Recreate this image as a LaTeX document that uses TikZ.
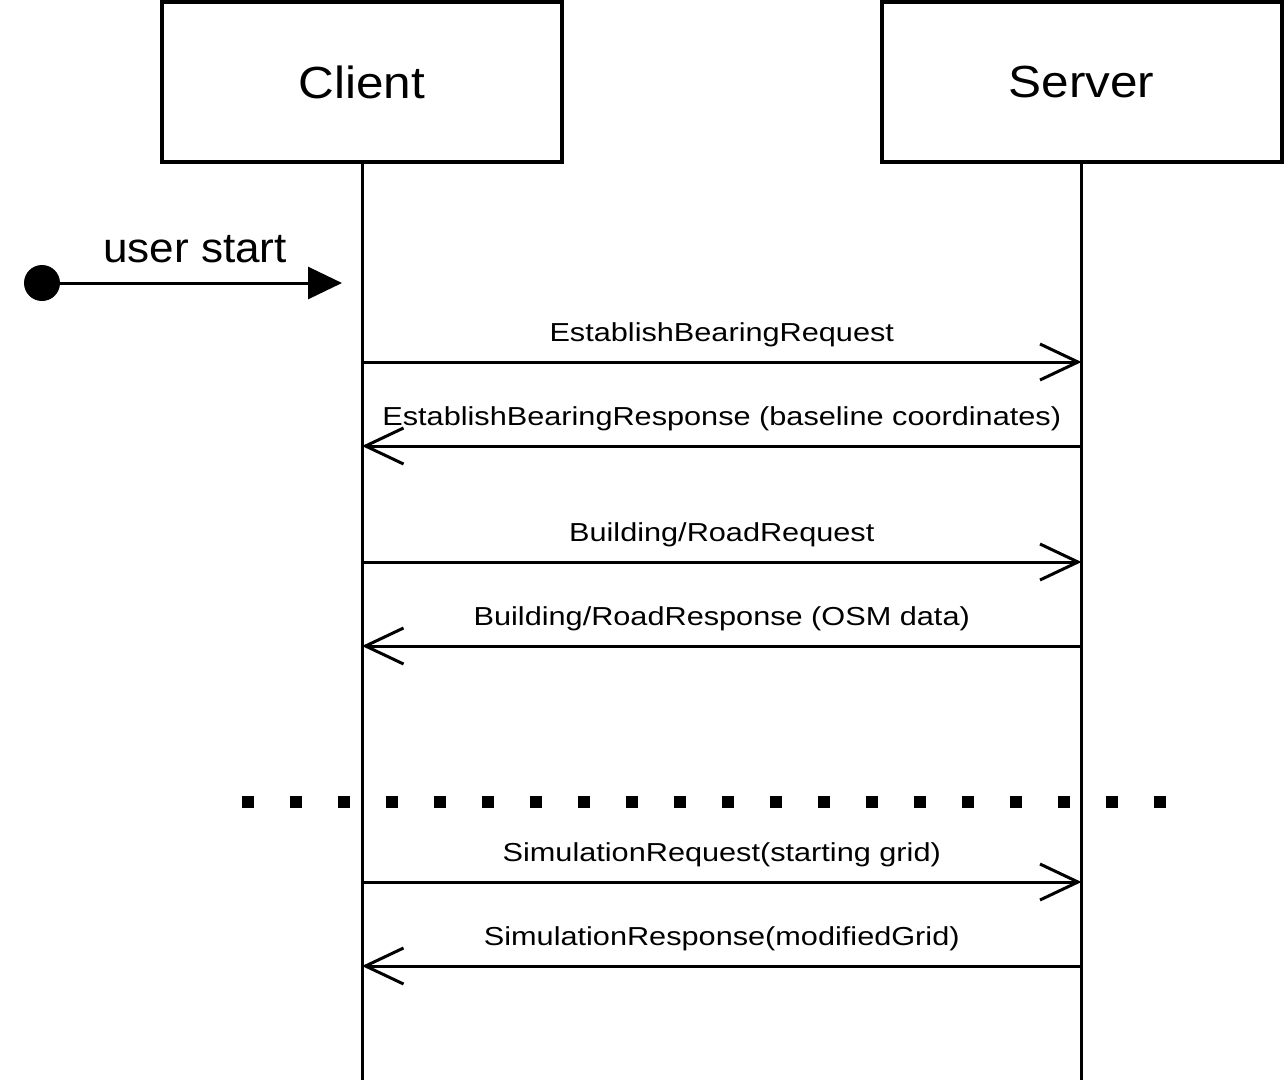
\documentclass[tikz,border=0pt]{standalone}
\usepackage{fontspec}
\usetikzlibrary{arrows.meta}
\newfontfamily\titlefont[FakeStretch=1.1]{Liberation Sans}
\newfontfamily\startfont[FakeStretch=1.05]{Liberation Sans}
\newfontfamily\labfont[FakeStretch=1.18]{Liberation Sans}
\begin{document}
\begin{tikzpicture}[x=1pt,y=-1pt,
  actor/.style={draw, line width=4pt, minimum width=400pt, minimum height=160pt,
    inner sep=0pt, font=\titlefont\fontsize{45}{54}\selectfont},
  lifeline/.style={line width=3pt},
  req/.style={line width=3pt, -{Straight Barb[length=38pt,width=36pt,line width=3pt]}},
  lab/.style={midway, anchor=base, yshift=21pt, inner sep=0pt,
    font=\labfont\fontsize{26}{31}\selectfont},
  startdot/.style={circle, fill, minimum size=36pt, inner sep=0pt},
  startarrow/.style={line width=3pt, -{Triangle[length=34pt,width=32pt]}},
  sep/.style={line width=12pt, dash pattern=on 12pt off 36pt}
]
\useasboundingbox (0,0) rectangle (1284,1088);
% actors
\node[actor] (client) at (362,82) {Client};
\node[actor] (server) at (1081.5,82) {Server};
\coordinate (clientEnd) at (362,1080);
\coordinate (serverEnd) at (1081.5,1080);
\draw[lifeline] (client.south) -- (clientEnd);
\draw[lifeline] (server.south) -- (serverEnd);
% user start
\node[startdot] (start) at (42,283) {};
\coordinate (startEnd) at (342,283);
\draw[startarrow] (start) -- (startEnd);
\node[anchor=base, inner sep=0pt, font=\startfont\fontsize{42}{50}\selectfont] (startlab) at (195,262) {user start};
% message anchors
\foreach \i/\y in {1/362,2/446,3/562,4/646,6/882,7/966}{
  \coordinate (c\i) at (362,\y);
  \coordinate (s\i) at (1081.5,\y);
}
\draw[req] (c1) -- node[lab] {EstablishBearingRequest} (s1);
\draw[req] (s2) -- node[lab] {EstablishBearingResponse (baseline coordinates)} (c2);
\draw[req] (c3) -- node[lab] {Building/RoadRequest} (s3);
\draw[req] (s4) -- node[lab] {Building/RoadResponse (OSM data)} (c4);
% separator
\coordinate (sepA) at (242,802);
\coordinate (sepB) at (1170,802);
\draw[sep] (sepA) -- (sepB);
\draw[req] (c6) -- node[lab] {SimulationRequest(starting grid)} (s6);
\draw[req] (s7) -- node[lab] {SimulationResponse(modifiedGrid)} (c7);
\end{tikzpicture}
\end{document}
